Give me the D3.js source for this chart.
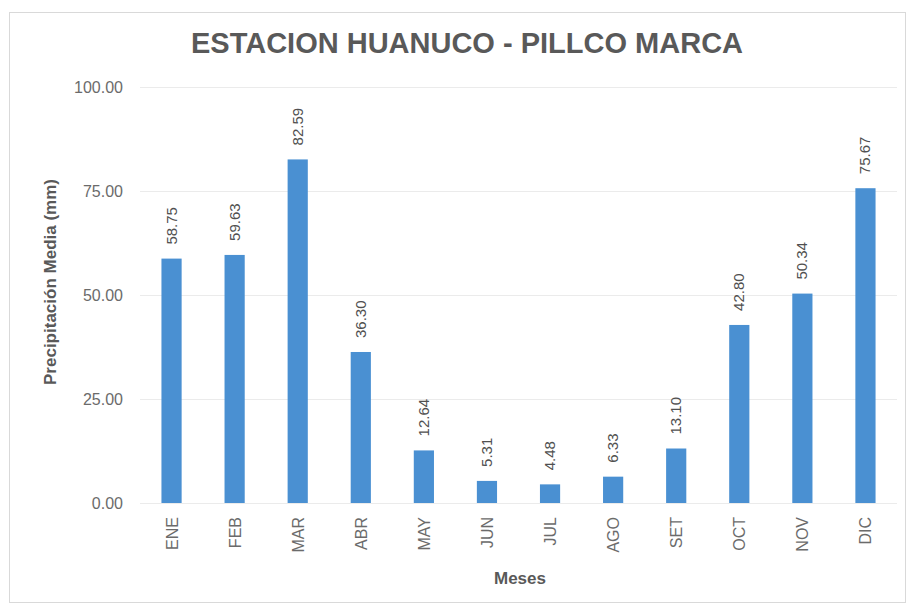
<!DOCTYPE html>
<html>
<head>
<meta charset="utf-8">
<script src="https://cdn.jsdelivr.net/npm/d3@7"></script>
<style>
  body { margin: 0; background: #fff; }
  text { font-family: "Liberation Sans", Arial, sans-serif; }
</style>
</head>
<body>
<svg id="chart" width="915" height="608"></svg>
<script>
let months = ['ENE', 'FEB', 'MAR', 'ABR', 'MAY', 'JUN', 'JUL', 'AGO', 'SET', 'OCT', 'NOV', 'DIC'];
let precip = [58.75, 59.63, 82.59, 36.30, 12.64, 5.31, 4.48, 6.33, 13.10, 42.80, 50.34, 75.67];
let yTicks = [0, 25, 50, 75, 100];

let svg = d3.select('#chart');
let margin = {left: 140, right: 18, top: 87, bottom: 105};
let W = 915, H = 608;

// chart frame
svg.append('rect')
	.attr('x', 9.5).attr('y', 12.5)
	.attr('width', 896).attr('height', 590)
	.attr('fill', '#fff')
	.attr('stroke', '#d9d9d9');

let x = d3.scaleBand()
	.domain(months)
	.range([margin.left, W - margin.right])
	.paddingInner(0.68)
	.paddingOuter(0.34);

let y = d3.scaleLinear()
	.domain([0, 100])
	.range([H - margin.bottom, margin.top]);

// gridlines
svg.append('g')
	.selectAll('line')
	.data(yTicks)
	.enter().append('line')
	.attr('x1', margin.left)
	.attr('x2', W - margin.right)
	.attr('y1', function (d) { return y(d) + 0.5})
	.attr('y2', function (d) { return y(d) + 0.5})
	.attr('stroke', '#ebebeb')
	.attr('stroke-width', 1);

// y axis labels
let yAxis = d3.axisLeft(y)
	.tickValues(yTicks)
	.tickSize(0)
	.tickPadding(17)
	.tickFormat(d3.format('.2f'));
let gy = svg.append('g')
	.attr('transform', 'translate(' + margin.left + ',0)')
	.call(yAxis);
gy.select('.domain').remove();
gy.selectAll('text')
	.attr('font-size', 16)
	.attr('fill', '#6b6b6b')
	.style('font-family', '"Liberation Sans", Arial, sans-serif');

// bars
svg.append('g')
	.selectAll('rect')
	.data(precip)
	.enter().append('rect')
	.attr('x', function (d, i) { return x(months[i])})
	.attr('y', function (d) { return y(d)})
	.attr('width', x.bandwidth())
	.attr('height', function (d) { return y(0) - y(d)})
	.attr('fill', '#4a90d2');

// value labels
svg.append('g')
	.selectAll('text')
	.data(precip)
	.enter().append('text')
	.attr('transform', function (d, i) {
		return 'translate(' + (x(months[i]) + x.bandwidth() / 2 + 5) + ',' + (y(d) - 14) + ') rotate(-90)';
	})
	.attr('font-size', 15)
	.attr('fill', '#505050')
	.text(function (d) { return d3.format('.2f')(d)});

// x axis labels
let xAxis = d3.axisBottom(x).tickSize(0).tickPadding(0);
let gx = svg.append('g')
	.attr('transform', 'translate(0,' + (H - margin.bottom) + ')')
	.call(xAxis);
gx.select('.domain').remove();
gx.selectAll('text')
	.attr('transform', 'translate(6,14) rotate(-90)')
	.attr('text-anchor', 'end')
	.attr('dy', 0)
	.attr('y', 0)
	.attr('font-size', 16)
	.attr('fill', '#6b6b6b')
	.style('font-family', '"Liberation Sans", Arial, sans-serif');

// titles
svg.append('text')
	.attr('x', 467).attr('y', 53)
	.attr('text-anchor', 'middle')
	.attr('font-size', 29)
	.attr('font-weight', 'bold')
	.attr('fill', '#595959')
	.text('ESTACION HUANUCO - PILLCO MARCA');

svg.append('text')
	.attr('transform', 'translate(56,282) rotate(-90)')
	.attr('text-anchor', 'middle')
	.attr('font-size', 17)
	.attr('font-weight', 'bold')
	.attr('fill', '#595959')
	.text('Precipitación Media (mm)');

svg.append('text')
	.attr('x', 520)
	.attr('y', 584)
	.attr('text-anchor', 'middle')
	.attr('font-size', 17)
	.attr('font-weight', 'bold')
	.attr('fill', '#595959')
	.text('Meses');
</script>
</body>
</html>
